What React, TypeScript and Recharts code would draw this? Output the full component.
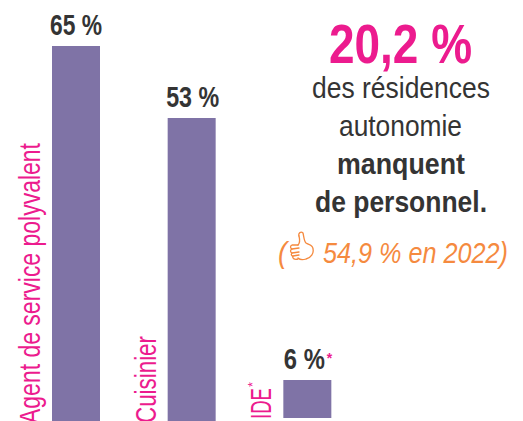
import React from "react";
import { BarChart, Bar, XAxis, YAxis, LabelList } from "recharts";

const categories = ["Agent de service polyvalent", "Cuisinier", "IDE"];
const printedLabels = ["65 %", "53 %", "6 %"];
// bar extents as drawn in the picture (the graphic is not strictly to scale)
const barTops = [65, 52.5, 7.1];
const barBottoms = [0, 0, 0.5];
const starred = [false, false, true];

const PINK = "#EC1B8E";
const DARK = "#343434";
const ORANGE = "#F58A3F";
const PURPLE = "#7F73A6";
const FONT = "'Liberation Sans', Arial, sans-serif";

const rows = categories.map((name, i) => ({
  name,
  range: [barBottoms[i], barTops[i]],
  label: printedLabels[i],
  starred: starred[i],
}));

const tickStyle = [
  { len: 281, start: 424 },
  { len: 87, start: 423 },
  { len: 31, start: 419 },
];
const labelWidth = [52, 53, 41];

function CategoryTick(props: any) {
  const { x, payload, index } = props;
  const s = tickStyle[index];
  const bx = x - 36;
  return (
    <g>
      <text
        transform={`rotate(-90 ${bx} ${s.start})`}
        x={bx}
        y={s.start}
        fontFamily={FONT}
        fontSize={30}
        fill={PINK}
        textLength={s.len}
        lengthAdjust="spacingAndGlyphs"
      >
        {payload.value}
      </text>
      {starred[index] && (
        <text
          transform={`rotate(-90 ${bx - 14} ${s.start - s.len - 1})`}
          x={bx - 14}
          y={s.start - s.len - 1}
          fontFamily={FONT}
          fontSize={13}
          fill={PINK}
        >
          *
        </text>
      )}
    </g>
  );
}

function BarLabel(props: any) {
  const { x, y, width, index } = props;
  const w = labelWidth[index];
  const cx = x + width / 2 + (index === 0 ? 0 : index === 1 ? 1 : -3);
  return (
    <g>
      <text
        x={cx - w / 2}
        y={y - 11}
        fontFamily={FONT}
        fontWeight={700}
        fontSize={30}
        fill={DARK}
        textLength={w}
        lengthAdjust="spacingAndGlyphs"
      >
        {printedLabels[index]}
      </text>
      {starred[index] && (
        <text x={cx + w / 2 + 2} y={y - 17} fontFamily={FONT} fontWeight={700} fontSize={14} fill={PINK}>
          *
        </text>
      )}
    </g>
  );
}

function T(p: any) {
  const { x, y, w, size, fill, bold, italic, children } = p;
  return (
    <text
      x={x}
      y={y}
      fontFamily={FONT}
      fontSize={size}
      fill={fill}
      fontWeight={bold ? 700 : 400}
      fontStyle={italic ? "italic" : "normal"}
      textLength={w}
      lengthAdjust="spacingAndGlyphs"
    >
      {children}
    </text>
  );
}

export default function App() {
  return (
    <div style={{ position: "absolute", left: 0, top: 0, width: 523, height: 421, overflow: "hidden" }}>
      <BarChart
        width={523}
        height={421}
        data={rows}
        margin={{ top: 0, right: 158, bottom: -1, left: 18 }}
        barCategoryGap={0}
      >
        <YAxis hide type="number" domain={[0, 72.97]} />
        <XAxis
          dataKey="name"
          height={1}
          axisLine={false}
          tickLine={false}
          interval={0}
          tick={<CategoryTick />}
        />
        <Bar dataKey="range" fill={PURPLE} barSize={48} isAnimationActive={false}>
          <LabelList content={<BarLabel />} />
        </Bar>
      </BarChart>
      <svg width={523} height={421} style={{ position: "absolute", left: 0, top: 0, pointerEvents: "none" }}>
        <T x={329} y={63} w={143} size={56} fill={PINK} bold>20,2 %</T>
        <T x={312} y={98} w={178} size={30} fill={DARK}>des résidences</T>
        <T x={339} y={136} w={123} size={30} fill={DARK}>autonomie</T>
        <T x={337} y={174} w={128} size={30} fill={DARK} bold>manquent</T>
        <T x={315} y={212} w={172} size={30} fill={DARK} bold>de personnel.</T>
        <T x={278} y={263} w={9} size={30} fill={ORANGE} italic>(</T>
        <T x={323} y={263} w={185} size={30} fill={ORANGE} italic>54,9 % en 2022)</T>
        <g fill="none" stroke={ORANGE} strokeWidth={1.3} strokeLinejoin="round" strokeLinecap="round">
          <path d="M299 236 C298 233 301 231 303 233 C304 237 304 241 306 243 C309 245 313 245 313 249 C314 253 311 258 306 259 C303 260 300 260 298 258" />
          <path d="M299 236 C300 240 300 243 298 245" />
          <path d="M298 245 L292 245 C290 246 290 248 292 249 C290 250 290 252 292 253 C291 254 291 256 293 256 C292 258 294 260 298 259" />
          <path d="M292 249 L299 248 M292 253 L299 252 M293 256 L299 255" />
        </g>
      </svg>
    </div>
  );
}
